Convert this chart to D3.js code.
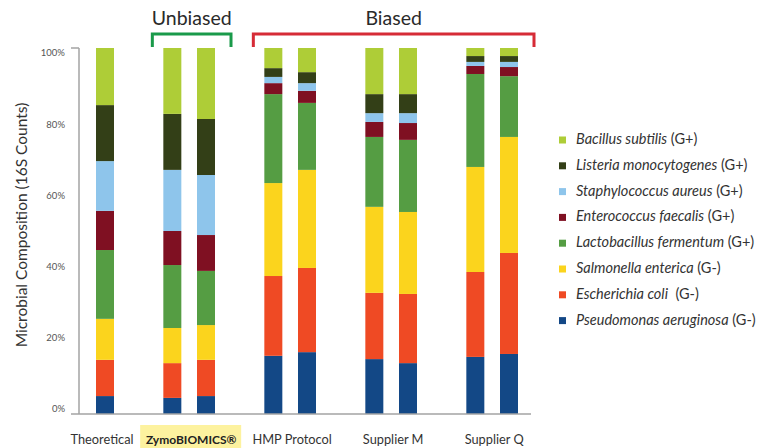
<!DOCTYPE html>
<html>
<head>
<meta charset="utf-8">
<script src="https://cdn.jsdelivr.net/npm/d3@7"></script>
<style>
  html, body { margin: 0; padding: 0; background: #fff; }
  svg { display: block; font-family: Lato, "Open Sans", sans-serif; }
</style>
</head>
<body>
<svg id="chart" width="774" height="448"></svg>
<script>
// ---------- DATA ----------
const groupNames = ["Theoretical", "ZymoBIOMICS®", "HMP Protocol", "Supplier M", "Supplier Q"];
const barIds     = ["T", "Z1", "Z2", "H1", "H2", "M1", "M2", "Q1", "Q2"];
const barGroup   = [0, 1, 1, 2, 2, 3, 3, 4, 4];

// species, stacked bottom -> top
const species = [
  "Pseudomonas aeruginosa", "Escherichia coli", "Salmonella enterica", "Lactobacillus fermentum",
  "Enterococcus faecalis", "Staphylococcus aureus", "Listeria monocytogenes", "Bacillus subtilis"
];
const gram = ["(G-)", " (G-)", "(G-)", "(G+)", "(G+)", "(G+)", "(G+)", "(G+)"];
const colors = ["#134886", "#ef4a24", "#fbd41d", "#559d43", "#7f1022", "#8ec5eb", "#333f17", "#aecd37"];

// percentages per bar (order of barIds)
const pseudomonas   = [4.9, 4.4, 4.9, 15.9, 16.9, 15.0, 13.9, 15.6, 16.4];
const escherichia   = [9.9, 9.5, 9.9, 21.8, 23.0, 18.1, 18.9, 23.2, 27.6];
const salmonella    = [11.2, 9.6, 9.5, 25.4, 26.8, 23.5, 22.4, 28.7, 31.7];
const lactobacillus = [18.8, 17.2, 14.8, 24.3, 18.3, 19.1, 19.7, 25.4, 16.6];
const enterococcus  = [10.7, 9.3, 9.8, 3.0, 3.3, 4.1, 4.6, 2.2, 2.5];
const staphylococcus= [13.6, 16.7, 16.4, 1.7, 2.1, 2.4, 2.7, 1.1, 1.4];
const listeria      = [15.3, 15.3, 15.3, 2.4, 3.0, 5.2, 5.2, 1.6, 1.6];
const bacillus      = [15.6, 18.0, 19.4, 5.5, 6.6, 12.6, 12.6, 2.2, 2.2];

const seriesValues = [pseudomonas, escherichia, salmonella, lactobacillus,
                      enterococcus, staphylococcus, listeria, bacillus];

const yTicks = [0, 20, 40, 60, 80, 100];
const brackets = [
  { label: "Unbiased", groups: [1], color: "#1a9a4a" },
  { label: "Biased", groups: [2, 3, 4], color: "#d62b36" }
];

// ---------- BUILD ----------
const rows = barIds.map((id, i) => {
  const r = { id, group: barGroup[i] };
  species.forEach((s, k) => r[s] = seriesValues[k][i]);
  return r;
});
const stacked = d3.stack().keys(species)(rows);

// slot domain: bars with a spacer between groups
const slots = [];
barIds.forEach((id, i) => {
  if (i > 0 && barGroup[i] !== barGroup[i - 1]) slots.push("gap" + i);
  slots.push(id);
});

const svg = d3.select("#chart");
const x = d3.scalePoint().domain(slots).range([105, 509]);
const y = d3.scaleLinear().domain([0, 100]).range([414, 48]);
const yLab = d3.scaleLinear().domain([0, 100]).range([410, 54]);
const barW = 18;
const axisX = 79;

// bars
svg.append("g").selectAll("g").data(stacked).join("g")
  .attr("fill", (d, i) => colors[i])
  .selectAll("rect").data(d => d).join("rect")
  .attr("x", d => x(d.data.id) - barW / 2)
  .attr("width", barW)
  .attr("y", d => y(d[1]))
  .attr("height", d => y(d[0]) - y(d[1]));

// axes
const axisColor = "#a3a3a3";
svg.append("line").attr("x1", axisX).attr("x2", axisX)
  .attr("y1", y(100)).attr("y2", y(0))
  .attr("stroke", axisColor).attr("stroke-width", 1.5);
svg.append("line").attr("x1", axisX - 8).attr("x2", axisX)
  .attr("y1", y(100)).attr("y2", y(100))
  .attr("stroke", axisColor).attr("stroke-width", 1.5);
svg.append("line").attr("x1", axisX - 8).attr("x2", 531)
  .attr("y1", y(0)).attr("y2", y(0))
  .attr("stroke", axisColor).attr("stroke-width", 1.5);

svg.append("g").selectAll("text").data(yTicks).join("text")
  .attr("x", 65).attr("y", d => yLab(d))
  .attr("text-anchor", "end").attr("dominant-baseline", "middle")
  .attr("font-size", 9.5).attr("fill", "#555")
  .text(d => d + "%");

svg.append("text")
  .attr("transform", `translate(27, 225) rotate(-90)`)
  .attr("text-anchor", "middle")
  .attr("font-size", 15.5).attr("fill", "#333")
  .text("Microbial Composition (16S Counts)");

// group labels
const groupCenter = g => d3.mean(barIds.filter((_, i) => barGroup[i] === g), id => x(id));
const labelG = svg.append("g");
groupNames.forEach((name, g) => {
  const cx = groupCenter(g);
  if (g === 1) {
    labelG.append("rect").attr("x", cx - 49).attr("y", 425)
      .attr("width", 101).attr("height", 23).attr("fill", "#fdf29f");
  }
  labelG.append("text")
    .attr("x", g === 0 ? cx - 3 : cx + 2).attr("y", 443.5)
    .attr("text-anchor", "middle")
    .attr("font-size", g === 1 ? 12 : 12.8)
    .attr("font-weight", g === 1 ? 700 : 400)
    .attr("fill", g === 1 ? "#222" : "#333")
    .text(name);
});

// brackets
brackets.forEach(b => {
  const ids = barIds.filter((_, i) => b.groups.includes(barGroup[i]));
  const x0 = x(ids[0]) - barW / 2 - 11;
  const x1 = x(ids[ids.length - 1]) + barW / 2 + 16;
  const yTop = 34, yBot = 47;
  svg.append("path")
    .attr("d", `M${x0},${yBot}V${yTop}H${x1}V${yBot}`)
    .attr("fill", "none").attr("stroke", b.color).attr("stroke-width", 3);
  svg.append("text")
    .attr("x", (x0 + x1) / 2).attr("y", 25)
    .attr("text-anchor", "middle")
    .attr("font-size", 19.5).attr("fill", "#2a2a2a")
    .text(b.label);
});

// legend (top -> bottom = reverse stack)
const legendOrder = d3.range(species.length).reverse();
const leg = svg.append("g").selectAll("g").data(legendOrder).join("g")
  .attr("transform", (k, i) => `translate(559, ${140 + i * 25.8})`);
leg.append("rect").attr("x", 0).attr("y", -3.5).attr("width", 7).attr("height", 7)
  .attr("fill", k => colors[k]);
const lt = leg.append("text").attr("x", 17).attr("dominant-baseline", "middle")
  .attr("font-size", 14.5).attr("fill", "#333").style("white-space", "pre");
lt.append("tspan").attr("font-style", "italic").text(k => species[k]);
lt.append("tspan").text(k => " " + gram[k]);
</script>
</body>
</html>
